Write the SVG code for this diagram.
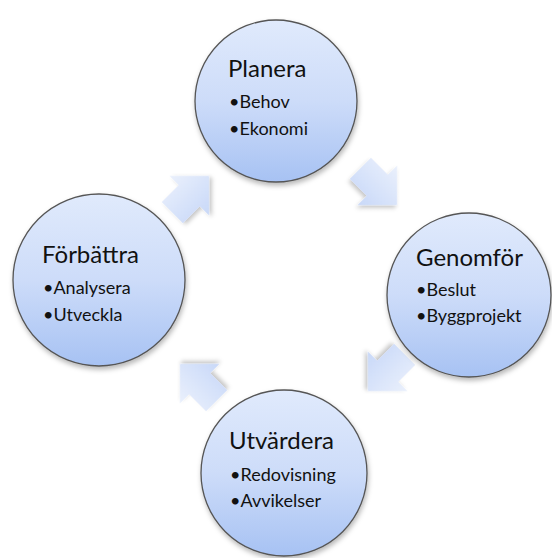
<svg xmlns="http://www.w3.org/2000/svg" width="552" height="558" viewBox="0 0 552 558">
  <defs>
    <linearGradient id="cg" x1="0" y1="0" x2="0" y2="1">
      <stop offset="0" stop-color="#e0eafc"/>
      <stop offset="0.5" stop-color="#cddcf9"/>
      <stop offset="1" stop-color="#a7c2f3"/>
    </linearGradient>
    <linearGradient id="ag" gradientUnits="objectBoundingBox" x1="0" y1="0" x2="0" y2="1">
      <stop offset="0" stop-color="#eaf0fc"/>
      <stop offset="1" stop-color="#c8d8f8"/>
    </linearGradient>
    <filter id="sh" x="-20%" y="-20%" width="140%" height="140%">
      <feDropShadow dx="1" dy="3" stdDeviation="2.5" flood-color="#000" flood-opacity="0.28"/>
    </filter>
    <filter id="ash" x="-30%" y="-30%" width="160%" height="160%">
      <feDropShadow dx="1" dy="3" stdDeviation="2" flood-color="#000" flood-opacity="0.22"/>
    </filter>
    <path id="arr" d="M-25,-15 L-1,-15 L-1,-28 L27,0 L-1,28 L-1,15 L-25,15 Z"/>
  </defs>
  <style>
    .c { fill: url(#cg); stroke: #555; stroke-width: 1.3; filter: url(#sh); }
    .a { fill: url(#ag); filter: url(#ash); }
    .t { font-family: Lato, "Open Sans", "Liberation Sans", sans-serif; font-size: 24px; fill: #111; }
    .b { font-family: Lato, "Open Sans", "Liberation Sans", sans-serif; font-size: 18px; fill: #111; }
  </style>
  <g id="connectors">
    <g transform="translate(190,195) rotate(-45)"><use href="#arr" class="a"/></g>
    <g transform="translate(378,186) rotate(45)"><use href="#arr" class="a"/></g>
    <g transform="translate(387,372) rotate(135)"><use href="#arr" class="a"/></g>
    <g transform="translate(199,383) rotate(-135)"><use href="#arr" class="a"/></g>
  </g>
  <g id="planera">
    <circle class="c" cx="276" cy="101" r="81"/>
    <text class="t" x="228" y="77">Planera</text>
    <text class="b" x="229" y="108">•Behov</text>
    <text class="b" x="229" y="135">•Ekonomi</text>
  </g>
  <g id="genomfor">
    <circle class="c" cx="469" cy="295" r="82"/>
    <text class="t" x="416" y="266">Genomför</text>
    <text class="b" x="416" y="296">•Beslut</text>
    <text class="b" x="416" y="322">•Byggprojekt</text>
  </g>
  <g id="forbattra">
    <circle class="c" cx="99" cy="280" r="86"/>
    <text class="t" x="42" y="263">Förbättra</text>
    <text class="b" x="43" y="294">•Analysera</text>
    <text class="b" x="43" y="321">•Utveckla</text>
  </g>
  <g id="utvardera">
    <circle class="c" cx="284" cy="473" r="83"/>
    <text class="t" x="229" y="449">Utvärdera</text>
    <text class="b" x="230" y="481">•Redovisning</text>
    <text class="b" x="230" y="507">•Avvikelser</text>
  </g>
</svg>
